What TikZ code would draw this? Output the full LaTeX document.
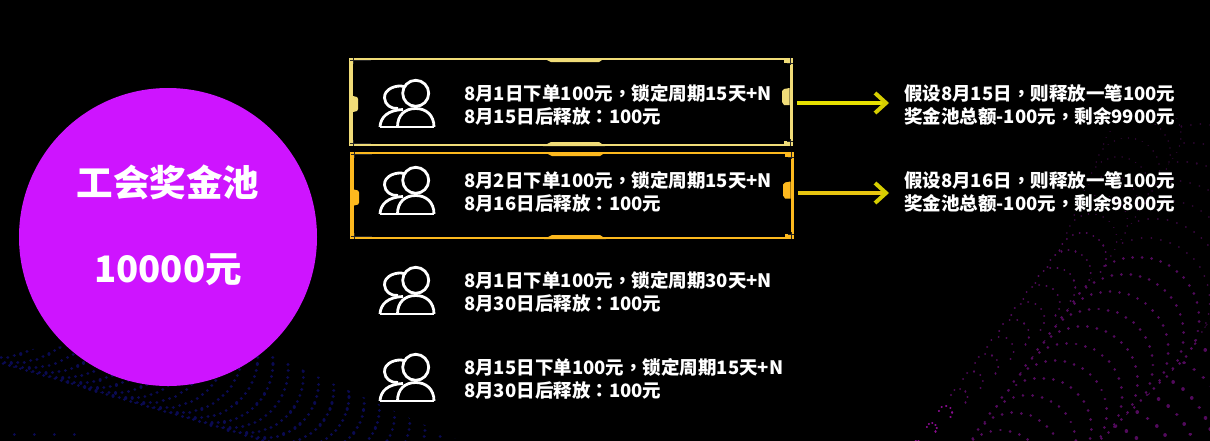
\documentclass[tikz,border=0pt]{standalone}
\usepackage{fontspec}
\setmainfont{Noto Sans CJK SC}
\newfontfamily\tcfont{Noto Sans CJK TC}
\newcommand{\cma}{{\tcfont ，}}
\newcommand{\cln}{{\tcfont ：}}
\usetikzlibrary{arrows.meta}
\definecolor{gold1}{HTML}{F0DC78}
\definecolor{gold2}{HTML}{FDB91E}
\definecolor{arrowa}{HTML}{E6E000}
\definecolor{arrowb}{HTML}{E8C510}
\definecolor{arrowtip}{HTML}{D6CE00}
\definecolor{poolc}{HTML}{CE14FF}
\definecolor{dotp}{HTML}{520A5C}
\definecolor{dotq}{HTML}{8A0C8E}
\definecolor{dotb}{HTML}{0A0A52}
\tikzset{
  x=1pt,y=-1pt,
  dotline/.style={line cap=round,line width=#1},
  poolnode/.style={circle,fill=poolc,minimum size=298pt,inner sep=0pt},
  pooltext/.style={text=white,font=\fontsize{36.5}{36.5}\selectfont\bfseries,inner sep=0pt},
  linetext/.style={text=white,font=\fontsize{18.5}{22.5}\selectfont\bfseries,align=left,inner sep=0pt,anchor=west},
  framebox/.style={draw=none,inner sep=0pt,minimum width=444pt,minimum height=#1},
  flow/.style={line width=4pt,-{Straight Barb[length=11pt,width=20pt,line width=4pt,color=arrowtip]},shorten <=4pt,shorten >=15pt},
  person/.pic={
    \begin{scope}[white,line width=2.8pt]
      \draw (380,127) -- (434,127);
      \draw (415.7,93.3) circle (13);
      \draw (397.5,127) .. controls (397.5,115) and (405,108.5) .. (415.7,108.5) .. controls (426,108.5) and (434,115) .. (434,127);
      \draw (380,127) .. controls (380.5,117) and (388,110) .. (403,109.5);
      \draw (404,86.5) .. controls (397,84.5) and (384,88.5) .. (384.5,98) .. controls (385,105) and (391,109) .. (398,108.5);
    \end{scope}
  }
}
\newcommand{\goldframe}[5]{%
  \begin{scope}[#2]
    \pgfmathsetmacro{\ymid}{(#4+#5)/2}
    \fill (#3,#4) rectangle (#3+4,#5);
    \fill (#3+444-3.5,#4) rectangle (#3+444,#5);
    \fill (#3,#4) rectangle (#3+444,#4+2);
    \fill (#3,#5-2) rectangle (#3+444,#5);
    \fill (#3+4,\ymid-6) -- (#3+8,\ymid-5) -- (#3+9,\ymid-3) -- (#3+9,\ymid+7) -- (#3+8,\ymid+9) -- (#3+4,\ymid+10) -- cycle;
    \fill (#3+440.5,\ymid-14) -- (#3+435,\ymid-13) -- (#3+433,\ymid-11) -- (#3+433,\ymid+0) -- (#3+435,\ymid+3) -- (#3+440.5,\ymid+3) -- cycle;
    \fill (#3+194,#4) -- (#3+202,#4+4) -- (#3+250,#4+4) -- (#3+256,#4) -- cycle;
    \fill (#3+194,#5) -- (#3+202,#5-4) -- (#3+250,#5-4) -- (#3+256,#5) -- cycle;
    \fill (#3+435,#4+2) rectangle (#3+440.5,#4+5);
    \fill (#3+435,#5-5) rectangle (#3+440.5,#5-2);
  \end{scope}
  \draw[black!70!gray,line width=.6pt] (#3+1,#4+2.5) -- (#3+22,#4+2.5) (#3+4,#4) -- (#3+4,#4+6);
  \draw[black!70!gray,line width=.6pt] (#3+1,#5-2.5) -- (#3+22,#5-2.5) (#3+4,#5) -- (#3+4,#5-6);
  \draw[black!70!gray,line width=.6pt] (#3+438,#4+5) -- (#3+444,#4+5) (#3+441,#4) -- (#3+441,#4+7);
  \draw[black!70!gray,line width=.6pt] (#3+438,#5-5) -- (#3+444,#5-5) (#3+441,#5) -- (#3+441,#5-7);
}
\begin{document}
\begin{tikzpicture}
\useasboundingbox (0,0) rectangle (1210,440);
\fill[black] (-3,-3) rectangle (1213,443);
% bottom-right purple scales, far rows first
\begin{scope}
  \clip (905,441) -- (1037,222) -- (1066,140) -- (1210,110) -- (1210,441) -- cycle;
  \foreach \j in {5,4,3,2,1,0}{
    \foreach \i in {18,17,...,-8}{
      \pgfmathsetmacro{\ii}{min(\i,11)}
      \pgfmathsetmacro{\ex}{max(\i-11,0)}
      \pgfmathsetmacro{\rr}{max(4,5+1.7*\i+38*\j)}
      \pgfmathsetmacro{\cx}{931.7+13.7*\ii+9*\ex+\j*55}
      \pgfmathsetmacro{\cy}{423.3-17.3*\ii-19*\ex+\j*24+\rr}
      \pgfmathsetmacro{\dotr}{2*(1.1+0.36*\j)*(\i>11?0.7:1)}
      \pgfmathsetmacro{\sweep}{\j==0?205:300}
      \pgfmathsetmacro{\nn}{int(max(5,\rr/57.3*\sweep/(7+2.5*\j)))}
      \pgfmathsetmacro{\stepa}{\sweep/\nn}
      \pgfmathsetmacro{\dotc}{\i>13?55:(\i>11?75:100)}
      \fill[black] (\cx,\cy) circle (\rr);
      \draw[dotp!\dotc!black,dotline=\dotr pt] \foreach \k in {0,...,\nn}{
        ({\cx+\rr*cos(-165+\stepa*\k)},{\cy+\rr*sin(-165+\stepa*\k)}) -- ++(0.01,0)
      };
    }
  }
  % brighter small arcs at the lower end of the edge
  \foreach \i in {-1,0,1}{
    \pgfmathsetmacro{\rr}{max(4,5+1.7*\i)}
    \pgfmathsetmacro{\cx}{931.7+13.7*\i}
    \pgfmathsetmacro{\cy}{423.3-17.3*\i+\rr}
    \draw[dotq,dotline=2.2pt] \foreach \k in {0,...,5}{
      ({\cx+\rr*cos(-165+41*\k)},{\cy+\rr*sin(-165+41*\k)}) -- ++(0.01,0)
    };
  }
\end{scope}
% bottom-left blue scales
\begin{scope}
  \clip (0,352) -- (130,340) -- (273,356) -- (460,441) -- (0,441) -- cycle;
  \foreach \i in {12,11,...,-18}{
    \pgfmathsetmacro{\rr}{60-1.5*\i}
    \pgfmathsetmacro{\cx}{273+15.2*\i-\rr}
    \pgfmathsetmacro{\cy}{363+6.5*\i}
    \pgfmathsetmacro{\nn}{int(\rr*2.0/7+3)}
    \pgfmathsetmacro{\stepa}{120/\nn}
    \fill[black] (\cx,\cy) circle (\rr);
    \draw[dotb,dotline=3.2pt] \foreach \k in {0,...,\nn}{
      ({\cx+\rr*cos(-5+\stepa*\k)},{\cy+\rr*sin(-5+\stepa*\k)}) -- ++(0.01,0)
    };
  }
  \foreach \m in {0,1,2,3}{
    \pgfmathsetmacro{\cx}{103+20*\m}
    \draw[dotb,dotline=2.8pt] \foreach \k in {0,...,3}{
      ({\cx+90*cos(160+10*\k)},{450+90*sin(160+10*\k)}) -- ++(0.01,0)
    };
  }
\end{scope}
% pool
\node[poolnode] (pool) at (168,237) {};
\node[pooltext] (pooltitle) at (168,182) {工会奖金池};
\node[pooltext] (poolvalue) at (168,270) {10000元};
% frames
\goldframe{a}{gold1}{349}{58}{146}
\goldframe{b}{gold2}{350}{152}{239}
\node[framebox=88pt] (f1) at (571,103) {};
\node[framebox=87pt] (f2) at (572,193) {};
% icons
\pic (p1) at (0,0) {person};
\pic (p2) at (0,87) {person};
\pic (p3) at (0,187) {person};
\pic (p4) at (0,274) {person};
% texts
\node[linetext] (t1) at (464,105) {8月1日下单100元\cma 锁定周期15天+N\\8月15日后释放\cln 100元};
\node[linetext] (t2) at (464,192) {8月2日下单100元\cma 锁定周期15天+N\\8月16日后释放\cln 100元};
\node[linetext] (t3) at (464,292) {8月1日下单100元\cma 锁定周期30天+N\\8月30日后释放\cln 100元};
\node[linetext] (t4) at (464,379) {8月15日下单100元\cma 锁定周期15天+N\\8月30日后释放\cln 100元};
\node[linetext] (r1) at (904,105) {假设8月15日\cma 则释放一笔100元\\奖金池总额-100元\cma 剩余9900元};
\node[linetext] (r2) at (904,192) {假设8月16日\cma 则释放一笔100元\\奖金池总额-100元\cma 剩余9800元};
% arrows
\draw[flow,arrowa] (f1.east) -- (f1.east -| r1.west);
\draw[flow,arrowb] (f2.east) -- (f2.east -| r2.west);
\end{tikzpicture}
\end{document}
